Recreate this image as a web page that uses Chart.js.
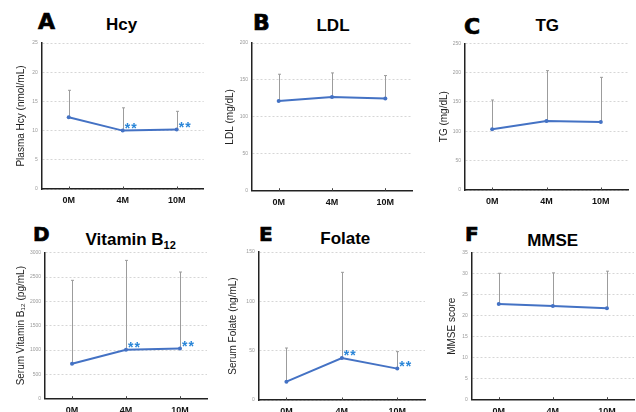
<!DOCTYPE html>
<html><head><meta charset="utf-8">
<script src="https://cdn.jsdelivr.net/npm/chart.js@4/dist/chart.umd.min.js"></script>
<style>
html,body{margin:0;padding:0;background:#fff;}
body{width:636px;height:412px;position:relative;overflow:hidden;}
canvas{position:absolute;}
.letter{position:absolute;font-family:"DejaVu Sans",sans-serif;font-weight:bold;color:#000;line-height:1;white-space:nowrap;-webkit-text-stroke:0.7px #000;}
.title{position:absolute;font-family:"Liberation Sans",Arial,sans-serif;font-weight:bold;font-size:17px;line-height:17px;text-align:center;width:200px;white-space:nowrap;color:#000;}
.title sub{font-size:11px;vertical-align:baseline;position:relative;top:4px;line-height:0;}
</style></head><body>
<div class="letter" style="left:38px;top:10.7px;font-size:22px;">A</div>
<div class="letter" style="left:253px;top:12.4px;font-size:22px;">B</div>
<div class="letter" style="left:464px;top:15.7px;font-size:22px;">C</div>
<div class="letter" style="left:33px;top:224.4px;font-size:20px;">D</div>
<div class="letter" style="left:259px;top:224.4px;font-size:20px;">E</div>
<div class="letter" style="left:465px;top:224.4px;font-size:20px;">F</div>
<div class="title" style="left:21.7px;top:16.1px;">Hcy</div>
<div class="title" style="left:233px;top:17.1px;">LDL</div>
<div class="title" style="left:447.3px;top:17.1px;">TG</div>
<div class="title" style="left:30.7px;top:231px;">Vitamin B<sub>12</sub></div>
<div class="title" style="left:245.3px;top:229.5px;">Folate</div>
<div class="title" style="left:452.7px;top:231.5px;">MMSE</div>
<script>
// ---------- data ----------
const categories = ['0M', '4M', '10M'];

const hcyMean = [12.3, 10.0, 10.2];
const hcySD   = [4.6, 3.9, 3.1];
const hcySig  = [false, true, true];
const hcyTicks = [0, 5, 10, 15, 20, 25];

const ldlMean = [121.6, 127.0, 124.8];
const ldlSD   = [36.1, 32.5, 31.1];
const ldlSig  = [false, false, false];
const ldlTicks = [0, 50, 100, 150, 200];

const tgMean = [103.4, 117.6, 115.9];
const tgSD   = [50.0, 85.8, 76.1];
const tgSig  = [false, false, false];
const tgTicks = [0, 50, 100, 150, 200, 250];

const b12Mean = [719, 1007, 1034];
const b12SD   = [1713, 1835, 1569];
const b12Sig  = [false, true, true];
const b12Ticks = [0, 500, 1000, 1500, 2000, 2500, 3000];

const folateMean = [18.6, 42.6, 31.8];
const folateSD   = [34.1, 86.8, 17.2];
const folateSig  = [false, true, true];
const folateTicks = [0, 50, 100, 150];

const mmseMean = [22.8, 22.3, 21.8];
const mmseSD   = [7.3, 7.9, 8.8];
const mmseSig  = [false, false, false];
const mmseTicks = [0, 5, 10, 15, 20, 25, 30, 35];

// ---------- drawing ----------
const BLUE = '#4472C4';
const STAR = '#2a86d8';
const FONT = '"Liberation Sans", Arial, sans-serif';

const errorPlugin = {
  id: 'errorBarsAndStars',
  beforeDatasetsDraw(chart) {
    const ds = chart.data.datasets[0];
    const {ctx, scales: {x, y}} = chart;
    ctx.save();
    ctx.strokeStyle = '#9c9c9c';
    ctx.lineWidth = 1;
    ds.data.forEach((m, i) => {
      const px = Math.round(x.getPixelForValue(i)) + 0.5;
      const y0 = y.getPixelForValue(m);
      const y1 = y.getPixelForValue(m + ds.errSD[i]);
      ctx.beginPath();
      ctx.moveTo(px, y0); ctx.lineTo(px, y1);
      ctx.moveTo(px - 1.5, y1); ctx.lineTo(px + 1.5, y1);
      ctx.stroke();
    });
    // small tick marks rising from the x axis
    ctx.strokeStyle = '#444';
    categories.forEach((c, i) => {
      const px = Math.round(x.getPixelForValue(i)) + 0.5;
      ctx.beginPath();
      ctx.moveTo(px, y.bottom); ctx.lineTo(px, y.bottom - 2.5);
      ctx.stroke();
    });
    ctx.restore();
  },
  afterDatasetsDraw(chart) {
    const ds = chart.data.datasets[0];
    const {ctx, scales: {x, y}} = chart;
    ctx.save();
    ctx.fillStyle = STAR;
    ctx.font = 'bold 14px ' + FONT;
    ctx.textBaseline = 'alphabetic';
    ctx.textAlign = 'left';
    ds.data.forEach((m, i) => {
      if (!ds.sig[i]) return;
      const px = x.getPixelForValue(i);
      const py = y.getPixelForValue(m);
      ctx.fillText('*', px + 2, py + 2.5);
      ctx.fillText('*', px + 8.5, py + 2.5);
    });
    ctx.restore();
  }
};

function panel(cv, area, mean, sd, sig, ticks, yTitle, titleCenter) {
  const c = document.createElement('canvas');
  c.width = cv[2]; c.height = cv[3];
  c.style.left = cv[0] + 'px'; c.style.top = cv[1] + 'px';
  c.style.width = cv[2] + 'px'; c.style.height = cv[3] + 'px';
  document.body.appendChild(c);
  const yW = area[0] - cv[0];
  const padTop = area[1] - cv[1];
  const padRight = cv[0] + cv[2] - area[2];
  const xH = cv[1] + cv[3] - area[3];
  new Chart(c, {
    type: 'line',
    data: {
      labels: categories,
      datasets: [{
        data: mean, errSD: sd, sig: sig,
        borderColor: BLUE, backgroundColor: BLUE, borderWidth: 2,
        pointRadius: 2, pointHoverRadius: 2, pointBorderWidth: 0,
        tension: 0, clip: false
      }]
    },
    options: {
      responsive: false, animation: false, devicePixelRatio: 1,
      layout: {padding: {left: 0, top: padTop, right: padRight, bottom: 0}},
      plugins: {legend: {display: false}, tooltip: {enabled: false}, title: {display: false}},
      scales: {
        x: {
          type: 'category', offset: true,
          grid: {display: false, drawTicks: false},
          border: {display: true, color: '#222', width: 1.5},
          ticks: {font: {family: FONT, size: 9, weight: 'bold'}, color: '#111', padding: 6, maxRotation: 0, autoSkip: false},
          afterFit: s => { s.height = xH; }
        },
        y: {
          min: ticks[0], max: ticks[ticks.length - 1],
          ticks: {stepSize: ticks[1] - ticks[0], font: {family: FONT, size: 5}, color: '#9a9a9a', padding: 4,
                  format: {useGrouping: false}},
          grid: {color: '#d6d6d6', drawTicks: false, lineWidth: 1},
          border: {display: true, color: '#222', width: 1.5, dash: [2, 2]},
          title: {display: true, text: yTitle, font: {family: FONT, size: 10}, color: '#222', padding: {top: titleCenter - 6, bottom: 0}},
          afterFit: s => { s.width = yW; }
        }
      }
    },
    plugins: [errorPlugin]
  });
}

panel([0, 36, 212, 176], [41.7, 42.7, 203.7, 189], hcyMean, hcySD, hcySig, hcyTicks, 'Plasma Hcy (nmol/mL)', 21.7);
panel([212, 36, 212, 176], [252, 42.7, 412, 190.7], ldlMean, ldlSD, ldlSig, ldlTicks, 'LDL (mg/dL)', 18.3);
panel([424, 36, 212, 176], [465, 43.3, 628, 190], tgMean, tgSD, tgSig, tgTicks, 'TG (mg/dL)', 20);
panel([0, 240, 212, 172], [45, 252.7, 207, 398.7], b12Mean, b12SD, b12Sig, b12Ticks, 'Serum Vitamin B\u2081\u2082 (pg/mL)', 21.7);
panel([212, 240, 215, 172], [258.7, 252, 425.5, 400], folateMean, folateSD, folateSig, folateTicks, 'Serum Folate (ng/mL)', 21.7);
panel([424, 240, 212, 172], [471.7, 252.7, 635, 399.7], mmseMean, mmseSD, mmseSig, mmseTicks, 'MMSE score', 28.3);
</script>
</body></html>
